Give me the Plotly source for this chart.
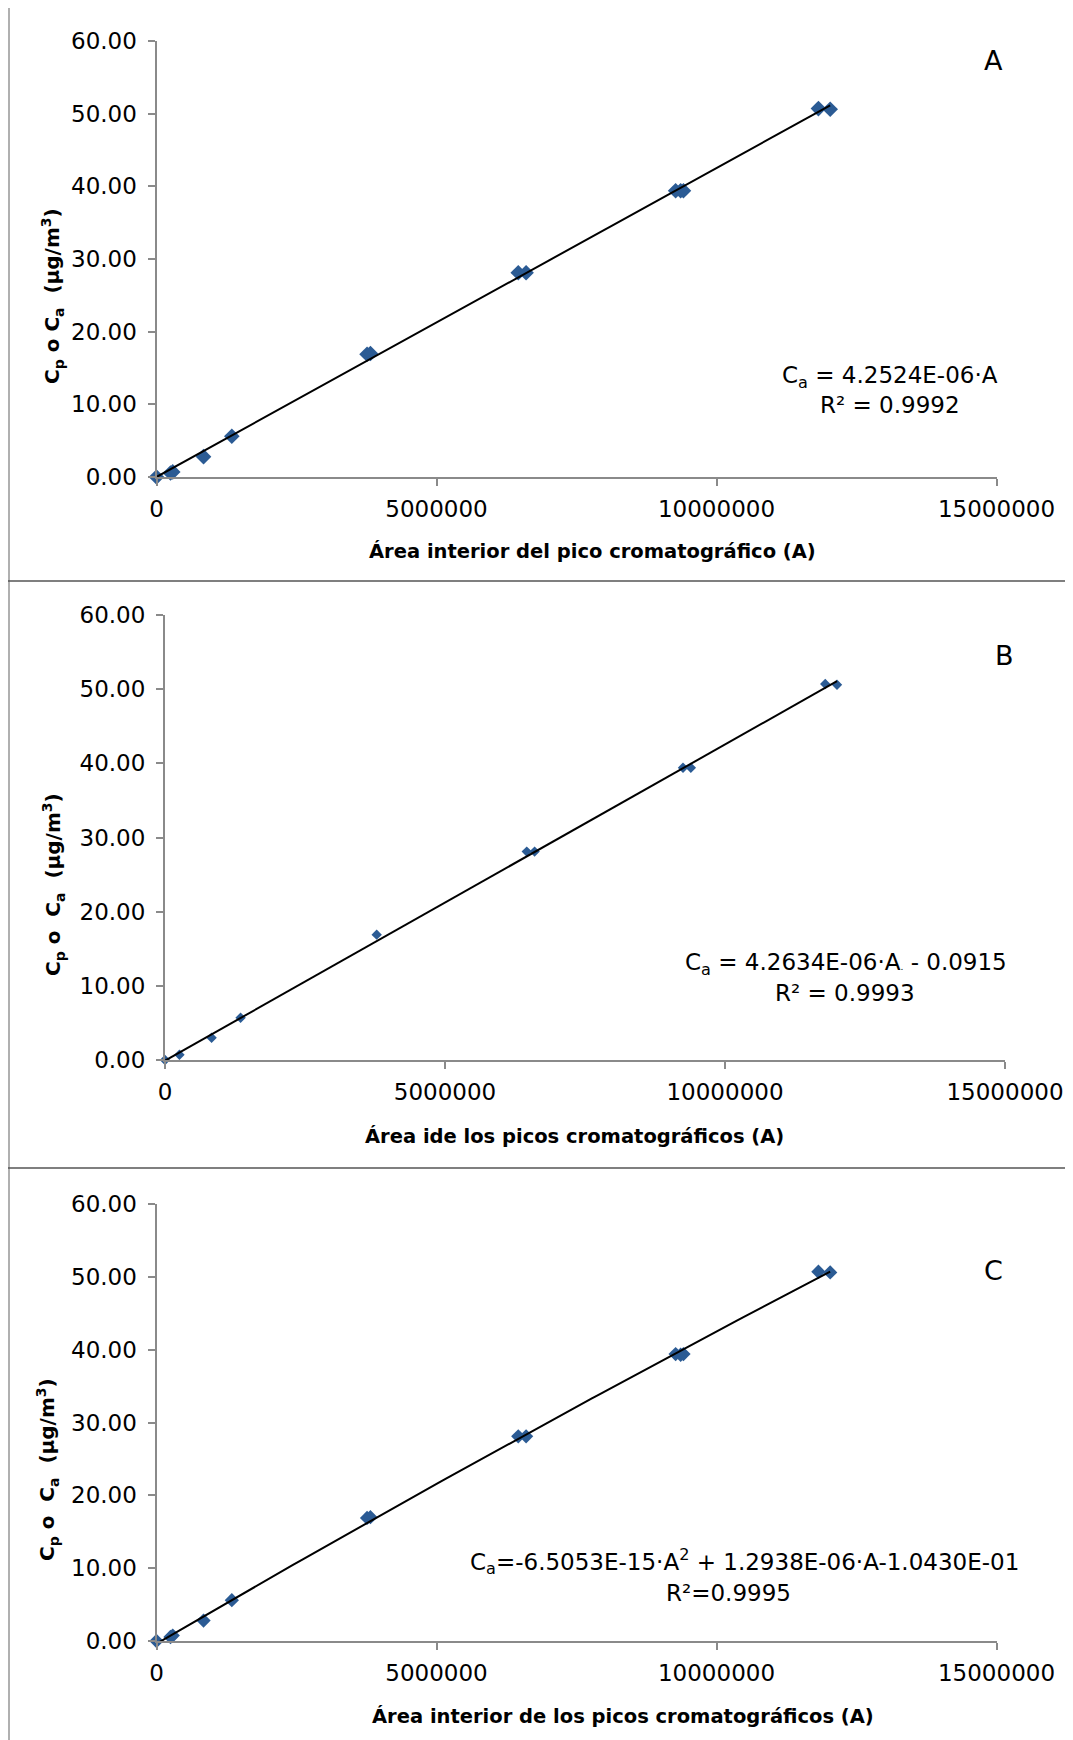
import numpy as np
import plotly.graph_objects as go

# ---- data ----
area_A = [0, 250000, 290000, 840000, 1345000, 3760000, 3820000, 6460000, 6600000,
          9270000, 9360000, 9410000, 11820000, 12030000]
conc_A = [0, 0.55, 0.7, 2.8, 5.6, 16.9, 17.0, 28.1, 28.1, 39.4, 39.4, 39.4, 50.7, 50.6]

area_B = [0, 258000, 832000, 1350000, 3780000, 6460000, 6600000, 9250000, 9390000,
          11790000, 12000000]
conc_B = [0, 0.7, 3.0, 5.7, 16.9, 28.1, 28.1, 39.4, 39.4, 50.7, 50.6]

area_C = [0, 250000, 290000, 840000, 1345000, 3760000, 3820000, 6460000, 6600000,
          9270000, 9360000, 9410000, 11820000, 12030000]
conc_C = [0, 0.55, 0.75, 2.8, 5.6, 16.9, 17.0, 28.1, 28.1, 39.4, 39.3, 39.4, 50.7, 50.6]

slope_A = 4.2524e-06
slope_B, icpt_B = 4.2634e-06, -0.0915

x_ticks = [0, 5000000, 10000000, 15000000]
x_ticklabels = ["0", "5000000", "10000000", "15000000"]
y_ticks = [0, 10, 20, 30, 40, 50, 60]

eq_A = ["C<sub>a</sub> = 4.2524E-06·A", "R² = 0.9992"]
eq_B = ["C<sub>a</sub> = 4.2634E-06·A<span style='font-size:9px'>.</span> - 0.0915", "R² = 0.9993"]
eq_C = ["C<sub>a</sub>=-6.5053E-15·A<sup>2</sup> + 1.2938E-06·A-1.0430E-01", "R²=0.9995"]

xtitles = ["Área interior del pico cromatográfico (A)",
           "Área ide los picos cromatográficos (A)",
           "Área interior de los picos cromatográficos (A)"]
ytitles = ["C<sub>p</sub> o C<sub>a</sub>  (μg/m<sup>3</sup>)",
           "C<sub>p</sub> o  C<sub>a</sub>  (μg/m<sup>3</sup>)",
           "C<sub>p</sub> o  C<sub>a</sub>  (μg/m<sup>3</sup>)"]
letters = ["A", "B", "C"]

# ---- layout geometry ----
W, H = 1073, 1740
OFF = 8  # page body margin
FONT = "DejaVu Sans"
MARK = "#2B5B94"

def px(x):
    return (x - OFF) / W

def py(y):
    return 1 - (y - OFF) / H

panels = [
    dict(x0=156.5, x1=996.5, ytop=41, ybot=477, msize=12,
         xt=(592.5, 551), yt=(52, 296), let=(993, 61),
         eq=((890, 377), (890, 405))),
    dict(x0=165, x1=1005, ytop=615, ybot=1060, msize=8,
         xt=(574, 1136), yt=(53, 885), let=(1004, 655),
         eq=((846, 964), (845, 993))),
    dict(x0=156.5, x1=996.5, ytop=1204, ybot=1641, msize=11,
         xt=(623, 1716.5), yt=(47, 1470), let=(993, 1270),
         eq=((744, 1561), (728, 1593))),
]

fig = go.Figure()

# trend lines
xa = np.array(area_A, dtype=float)
xb = np.array(area_B, dtype=float)
xc = np.array(area_C, dtype=float)
line_A_x = np.linspace(0, xa.max(), 50)
line_A_y = slope_A * line_A_x
line_B_x = np.linspace(0, xb.max(), 50)
line_B_y = slope_B * line_B_x + icpt_B
coef_C = np.polyfit(xc, np.array(conc_C), 2)
line_C_x = np.linspace(0, xc.max(), 80)
line_C_y = np.polyval(coef_C, line_C_x)

series = [(area_A, conc_A, line_A_x, line_A_y),
          (area_B, conc_B, line_B_x, line_B_y),
          (area_C, conc_C, line_C_x, line_C_y)]

annotations = []
for i, (p, (sx, sy, lx, ly)) in enumerate(zip(panels, series)):
    n = "" if i == 0 else str(i + 1)
    xref, yref = "x" + n, "y" + n
    fig.add_trace(go.Scatter(x=sx, y=sy, mode="markers", xaxis=xref, yaxis=yref,
                             marker=dict(symbol="diamond", size=p["msize"], color=MARK),
                             cliponaxis=False, showlegend=False))
    fig.add_trace(go.Scatter(x=lx, y=ly, mode="lines", xaxis=xref, yaxis=yref,
                             line=dict(color="black", width=2),
                             cliponaxis=False, showlegend=False))
    axis_common = dict(showline=True, linecolor="#8a8a8a", linewidth=2,
                       ticks="outside", ticklen=7, tickcolor="#8a8a8a", tickwidth=1.5,
                       showgrid=False, zeroline=False, automargin=False,
                       tickfont=dict(family=FONT, size=23, color="black"))
    fig.update_layout(**{
        "xaxis" + n: dict(domain=[px(p["x0"]), px(p["x1"])], range=[0, 15000000],
                          tickvals=x_ticks, ticktext=x_ticklabels, anchor=yref,
                          ticklabelstandoff=3, **axis_common),
        "yaxis" + n: dict(domain=[py(p["ybot"]), py(p["ytop"])], range=[0, 60],
                          tickvals=y_ticks, tickformat=".2f", anchor=xref,
                          ticklabelstandoff=6, **axis_common),
    })
    annotations.append(dict(x=px(p["xt"][0]), y=py(p["xt"][1]), xref="paper", yref="paper",
                            text="<b>" + xtitles[i] + "</b>", showarrow=False,
                            font=dict(family=FONT, size=19.5, color="black"),
                            xanchor="center", yanchor="middle"))
    annotations.append(dict(x=px(p["yt"][0]), y=py(p["yt"][1]), xref="paper", yref="paper",
                            text="<b>" + ytitles[i] + "</b>", showarrow=False, textangle=-90,
                            font=dict(family=FONT, size=20, color="black"),
                            xanchor="center", yanchor="middle"))
    annotations.append(dict(x=px(p["let"][0]), y=py(p["let"][1]), xref="paper", yref="paper",
                            text=letters[i], showarrow=False,
                            font=dict(family=FONT, size=27, color="black"),
                            xanchor="center", yanchor="middle"))
    eqs = [eq_A, eq_B, eq_C][i]
    for (ex, ey), t in zip(p["eq"], eqs):
        annotations.append(dict(x=px(ex), y=py(ey), xref="paper", yref="paper",
                                text=t, showarrow=False,
                                font=dict(family=FONT, size=23, color="black"),
                                xanchor="center", yanchor="middle"))

shapes = [
    dict(type="line", xref="paper", yref="paper", x0=px(8), x1=1, y0=py(6), y1=py(6),
         line=dict(color="#9a9a9a", width=2)),
    dict(type="line", xref="paper", yref="paper", x0=px(9), x1=px(9), y0=0, y1=py(6),
         line=dict(color="#b0b0b0", width=2)),
    dict(type="line", xref="paper", yref="paper", x0=px(8), x1=1, y0=py(581), y1=py(581),
         line=dict(color="#555555", width=1.5)),
    dict(type="line", xref="paper", yref="paper", x0=px(8), x1=1, y0=py(1168), y1=py(1168),
         line=dict(color="#555555", width=1.5)),
]

fig.update_layout(width=W, height=H, margin=dict(l=0, r=0, t=0, b=0, autoexpand=False),
                  paper_bgcolor="white", plot_bgcolor="white",
                  annotations=annotations, shapes=shapes,
                  font=dict(family=FONT, color="black"))

fig.write_html("out.html")
